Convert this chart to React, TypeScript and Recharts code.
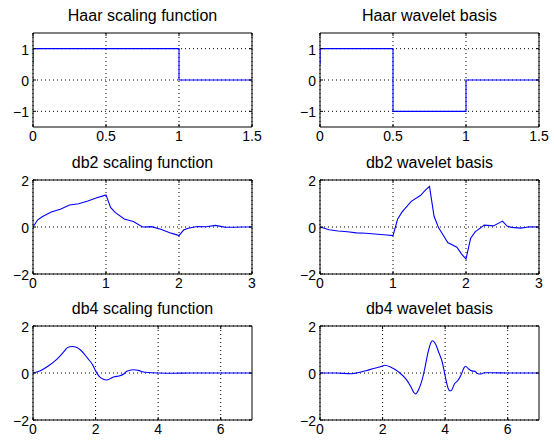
import React from 'react';
import { LineChart, Line, XAxis, YAxis, CartesianGrid, ReferenceArea } from 'recharts';

// ---------- data ----------
const haarScalingX = [0, 0, 1, 1, 1.5];
const haarScalingY = [0.5, 1, 1, 0, 0];
const haarWaveletX = [0, 0, 0.5, 0.5, 1, 1, 1.5];
const haarWaveletY = [0.5, 1, 1, -1, -1, 0, 0];

const db2ScalingX = [0, 0.0625, 0.125, 0.25, 0.375, 0.5, 0.625, 0.75, 0.875, 0.9375, 1, 1.0625, 1.125, 1.25, 1.375, 1.5, 1.625, 1.75, 1.875, 1.9375, 2, 2.0625, 2.125, 2.25, 2.375, 2.5, 2.625, 2.75, 2.875, 3];
const db2ScalingY = [0, 0.297, 0.435, 0.637, 0.754, 0.933, 0.987, 1.104, 1.244, 1.304, 1.366, 0.835, 0.621, 0.342, 0.233, 0, 0.017, -0.092, -0.246, -0.303, -0.366, -0.131, -0.056, 0.021, 0.013, 0.067, -0.004, -0.012, 0.002, 0];

const db2WaveletX = [0, 0.125, 0.25, 0.375, 0.5, 0.625, 0.75, 0.875, 1, 1.0625, 1.125, 1.25, 1.375, 1.4375, 1.5, 1.5625, 1.625, 1.75, 1.875, 1.9375, 2, 2.0625, 2.125, 2.25, 2.375, 2.5, 2.5625, 2.625, 2.75, 2.875, 3];
const db2WaveletY = [0, -0.117, -0.171, -0.202, -0.25, -0.265, -0.296, -0.333, -0.366, 0.328, 0.641, 1.092, 1.337, 1.55, 1.732, 0.456, -0.037, -0.658, -0.858, -1.141, -1.366, -0.49, -0.209, 0.079, 0.048, 0.25, 0.038, -0.015, -0.046, 0.008, 0];

const db4ScalingX = [0, 0.25, 0.5, 0.75, 1, 1.1, 1.25, 1.4, 1.5, 1.75, 1.9, 2, 2.1, 2.25, 2.35, 2.5, 2.6, 2.75, 2.9, 3, 3.2, 3.4, 3.5, 3.6, 3.8, 4, 4.5, 5, 6, 7];
const db4ScalingY = [0, 0.11, 0.31, 0.57, 0.93, 1.08, 1.13, 1.08, 1.0, 0.62, 0.36, 0.09, -0.12, -0.27, -0.3, -0.22, -0.16, -0.13, -0.04, 0.07, 0.14, 0.1, 0.05, 0.03, 0.01, 0, -0.01, 0, 0, 0];

const db4WaveletX = [0, 0.5, 1, 1.28, 1.5, 1.75, 2, 2.07, 2.25, 2.5, 2.75, 2.9, 3, 3.05, 3.15, 3.25, 3.35, 3.45, 3.55, 3.6, 3.7, 3.8, 3.9, 3.95, 4.05, 4.1, 4.15, 4.2, 4.3, 4.4, 4.5, 4.6, 4.65, 4.75, 4.85, 4.95, 5.05, 5.15, 5.25, 5.5, 6, 7];
const db4WaveletY = [0, 0, -0.03, 0.03, 0.11, 0.2, 0.3, 0.33, 0.26, 0.06, -0.26, -0.57, -0.83, -0.89, -0.71, -0.36, 0.2, 0.86, 1.31, 1.37, 1.21, 0.86, 0.5, 0.21, -0.43, -0.67, -0.76, -0.74, -0.46, -0.33, -0.11, 0.21, 0.29, 0.17, 0.09, 0.07, -0.03, -0.04, 0.01, 0.01, 0, 0];

const haarXTicks = [0, 0.5, 1, 1.5];
const haarYTicks = [-1, 0, 1];
const db2XTicks = [0, 1, 2, 3];
const db4XTicks = [0, 2, 4, 6];
const dbYTicks = [-2, 0, 2];

const titles = [
  'Haar scaling function',
  'Haar wavelet basis',
  'db2 scaling function',
  'db2 wavelet basis',
  'db4 scaling function',
  'db4 wavelet basis',
];

// ---------- layout ----------
const FONT = '"Liberation Sans", Arial, Helvetica, sans-serif';
const PW = 219;
const PH = 94;
const COL_LEFT = [33, 320];
const ROW_TOP = [33, 180, 326];
const ML = 40; // space left of plot
const MT = 6;
const MR = 16;
const MB = 26;

const fmt = (v: number) => String(v).replace('-', '\u2212');

const XTick = (props: any) => {
  const { x, y, payload } = props;
  return (
    <g>
      <line x1={x} x2={x} y1={y} y2={y - 3} stroke="#000" />
      <line x1={x} x2={x} y1={y - PH} y2={y - PH + 3} stroke="#000" />
      <text x={x} y={y + 14} textAnchor="middle" fontSize={14} fontFamily={FONT} fill="#000">
        {fmt(payload.value)}
      </text>
    </g>
  );
};

const YTick = (props: any) => {
  const { x, y, payload } = props;
  return (
    <g>
      <line x1={x} x2={x + 3} y1={y} y2={y} stroke="#000" />
      <line x1={x + PW} x2={x + PW - 3} y1={y} y2={y} stroke="#000" />
      <text x={x - 4} y={y + 6} textAnchor="end" fontSize={14} fontFamily={FONT} fill="#000">
        {fmt(payload.value)}
      </text>
    </g>
  );
};

type PanelProps = {
  xs: number[];
  ys: number[];
  xTicks: number[];
  yTicks: number[];
  xDomain: [number, number];
  yDomain: [number, number];
  curve: 'linear' | 'monotone';
  col: number;
  row: number;
};

const Panel = ({ xs, ys, xTicks, yTicks, xDomain, yDomain, curve, col, row }: PanelProps) => {
  const data = xs.map((x, i) => ({ x, y: ys[i] }));
  return (
    <div style={{ position: 'absolute', left: COL_LEFT[col] - ML, top: ROW_TOP[row] - MT }}>
      <LineChart
        width={ML + PW + MR}
        height={MT + PH + MB}
        data={data}
        margin={{ top: MT, right: MR, left: 0, bottom: 0 }}
      >
        <CartesianGrid
          stroke="#000"
          strokeDasharray="1 3"
          horizontalValues={yTicks}
          verticalValues={xTicks}
        />
        <XAxis
          dataKey="x"
          type="number"
          domain={xDomain}
          ticks={xTicks}
          allowDataOverflow
          height={MB}
          axisLine={false}
          tickLine={false}
          tickSize={0}
          tickMargin={0}
          interval={0}
          tick={<XTick />}
        />
        <YAxis
          type="number"
          domain={yDomain}
          ticks={yTicks}
          allowDataOverflow
          width={ML}
          axisLine={false}
          tickLine={false}
          tickSize={0}
          tickMargin={0}
          interval={0}
          tick={<YTick />}
        />
        <Line
          dataKey="y"
          type={curve}
          stroke="#0000ff"
          strokeWidth={1.1}
          dot={false}
          isAnimationActive={false}
        />
        <ReferenceArea
          x1={xDomain[0]}
          x2={xDomain[1]}
          y1={yDomain[0]}
          y2={yDomain[1]}
          fill="none"
          fillOpacity={0}
          stroke="#000"
          strokeWidth={1}
          ifOverflow="visible"
        />
      </LineChart>
    </div>
  );
};

export default function App() {
  return (
    <div style={{ position: 'absolute', left: 0, top: 0, width: 554, height: 441, background: '#fff', overflow: 'hidden' }}>
      <Panel xs={haarScalingX} ys={haarScalingY} xTicks={haarXTicks} yTicks={haarYTicks} xDomain={[0, 1.5]} yDomain={[-1.5, 1.5]} curve="linear" col={0} row={0} />
      <Panel xs={haarWaveletX} ys={haarWaveletY} xTicks={haarXTicks} yTicks={haarYTicks} xDomain={[0, 1.5]} yDomain={[-1.5, 1.5]} curve="linear" col={1} row={0} />
      <Panel xs={db2ScalingX} ys={db2ScalingY} xTicks={db2XTicks} yTicks={dbYTicks} xDomain={[0, 3]} yDomain={[-2, 2]} curve="linear" col={0} row={1} />
      <Panel xs={db2WaveletX} ys={db2WaveletY} xTicks={db2XTicks} yTicks={dbYTicks} xDomain={[0, 3]} yDomain={[-2, 2]} curve="linear" col={1} row={1} />
      <Panel xs={db4ScalingX} ys={db4ScalingY} xTicks={db4XTicks} yTicks={dbYTicks} xDomain={[0, 7]} yDomain={[-2, 2]} curve="monotone" col={0} row={2} />
      <Panel xs={db4WaveletX} ys={db4WaveletY} xTicks={db4XTicks} yTicks={dbYTicks} xDomain={[0, 7]} yDomain={[-2, 2]} curve="monotone" col={1} row={2} />
      <svg width={554} height={441} style={{ position: 'absolute', left: 0, top: 0, pointerEvents: 'none' }}>
        {titles.map((t, i) => (
          <text
            key={t}
            x={COL_LEFT[i % 2] + PW / 2}
            y={ROW_TOP[Math.floor(i / 2)] - 12}
            textAnchor="middle"
            fontSize={16}
            fontFamily={FONT}
            fill="#000"
          >
            {t}
          </text>
        ))}
      </svg>
    </div>
  );
}
